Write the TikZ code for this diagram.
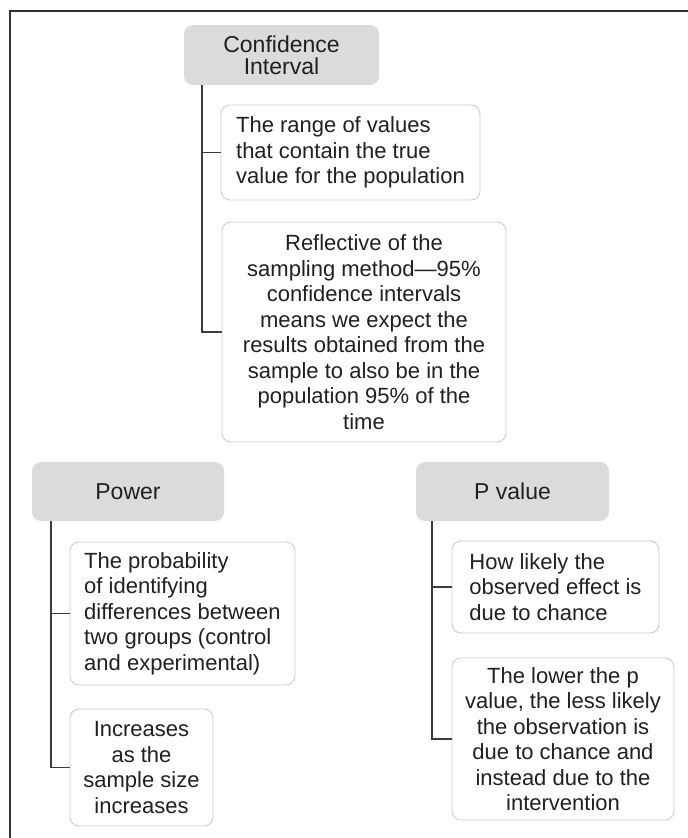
\documentclass[tikz,border=0pt]{standalone}
\usepackage{fontspec}
\setmainfont{Liberation Sans}
\definecolor{txt}{RGB}{35,31,32}
\definecolor{hdrfill}{RGB}{217,219,221}
\definecolor{boxline}{RGB}{205,205,205}
\definecolor{connc}{RGB}{60,60,60}
\definecolor{framec}{RGB}{50,50,50}
\begin{document}
\begin{tikzpicture}[x=1pt,y=-1pt,
  hdr/.style={fill=hdrfill, rounded corners=9pt, inner sep=0pt, align=center,
    text=txt, font=\fontsize{23}{22}\selectfont},
  infobox/.style={draw=boxline, fill=white, line width=0.9pt, rounded corners=9pt,
    inner sep=0pt, text=txt, font=\fontsize{22}{25.5}\selectfont},
  conn/.style={draw=connc, line width=1.1pt}]
\useasboundingbox (0,0) rectangle (688,838);
\draw[framec, line width=1.6pt] (10,838) -- (10,11) -- (688,11);

% Confidence interval
\node[hdr, minimum width=195pt, minimum height=60pt] (ci) at (281.5,55) {Confidence\\Interval};
\node[infobox, align=left, minimum width=259pt, minimum height=95pt] (ci1) at (350.5,152.5)
  {The range of values\\that contain the true\\value for the population};
\node[infobox, align=center, minimum width=284pt, minimum height=220pt] (ci2) at (364,332)
  {Reflective of the\\sampling method—95\%\\confidence intervals\\means we expect the\\results obtained from the\\sample to also be in the\\population 95\% of the\\time};
\coordinate (tci) at (202,0);
\draw[conn] (ci.south -| tci) |- (ci2.west);
\draw[conn] (ci1.west -| tci) -- (ci1.west);

% Power
\node[hdr, minimum width=192pt, minimum height=59pt] (pw) at (128,491.5) {Power};
\node[infobox, align=left, minimum width=225pt, minimum height=143pt] (pw1) at (182.5,613.5)
  {The probability\\of identifying\\differences between\\two groups (control\\and experimental)};
\node[infobox, align=center, minimum width=143pt, minimum height=117pt] (pw2) at (141.5,767.5)
  {Increases\\as the\\sample size\\increases};
\coordinate (tpw) at (51,0);
\draw[conn] (pw.south -| tpw) |- (pw2.west);
\draw[conn] (pw1.west -| tpw) -- (pw1.west);

% P value
\node[hdr, minimum width=193pt, minimum height=59pt] (pv) at (512.5,491.5) {P value};
\node[infobox, align=left, minimum width=207pt, minimum height=92pt] (pv1) at (555.5,587)
  {How likely the\\observed effect is\\due to chance};
\node[infobox, align=center, minimum width=222pt, minimum height=162pt] (pv2) at (563,739)
  {The lower the p\\value, the less likely\\the observation is\\due to chance and\\instead due to the\\intervention};
\coordinate (tpv) at (432,0);
\draw[conn] (pv.south -| tpv) |- (pv2.west);
\draw[conn] (pv1.west -| tpv) -- (pv1.west);
\end{tikzpicture}
\end{document}
